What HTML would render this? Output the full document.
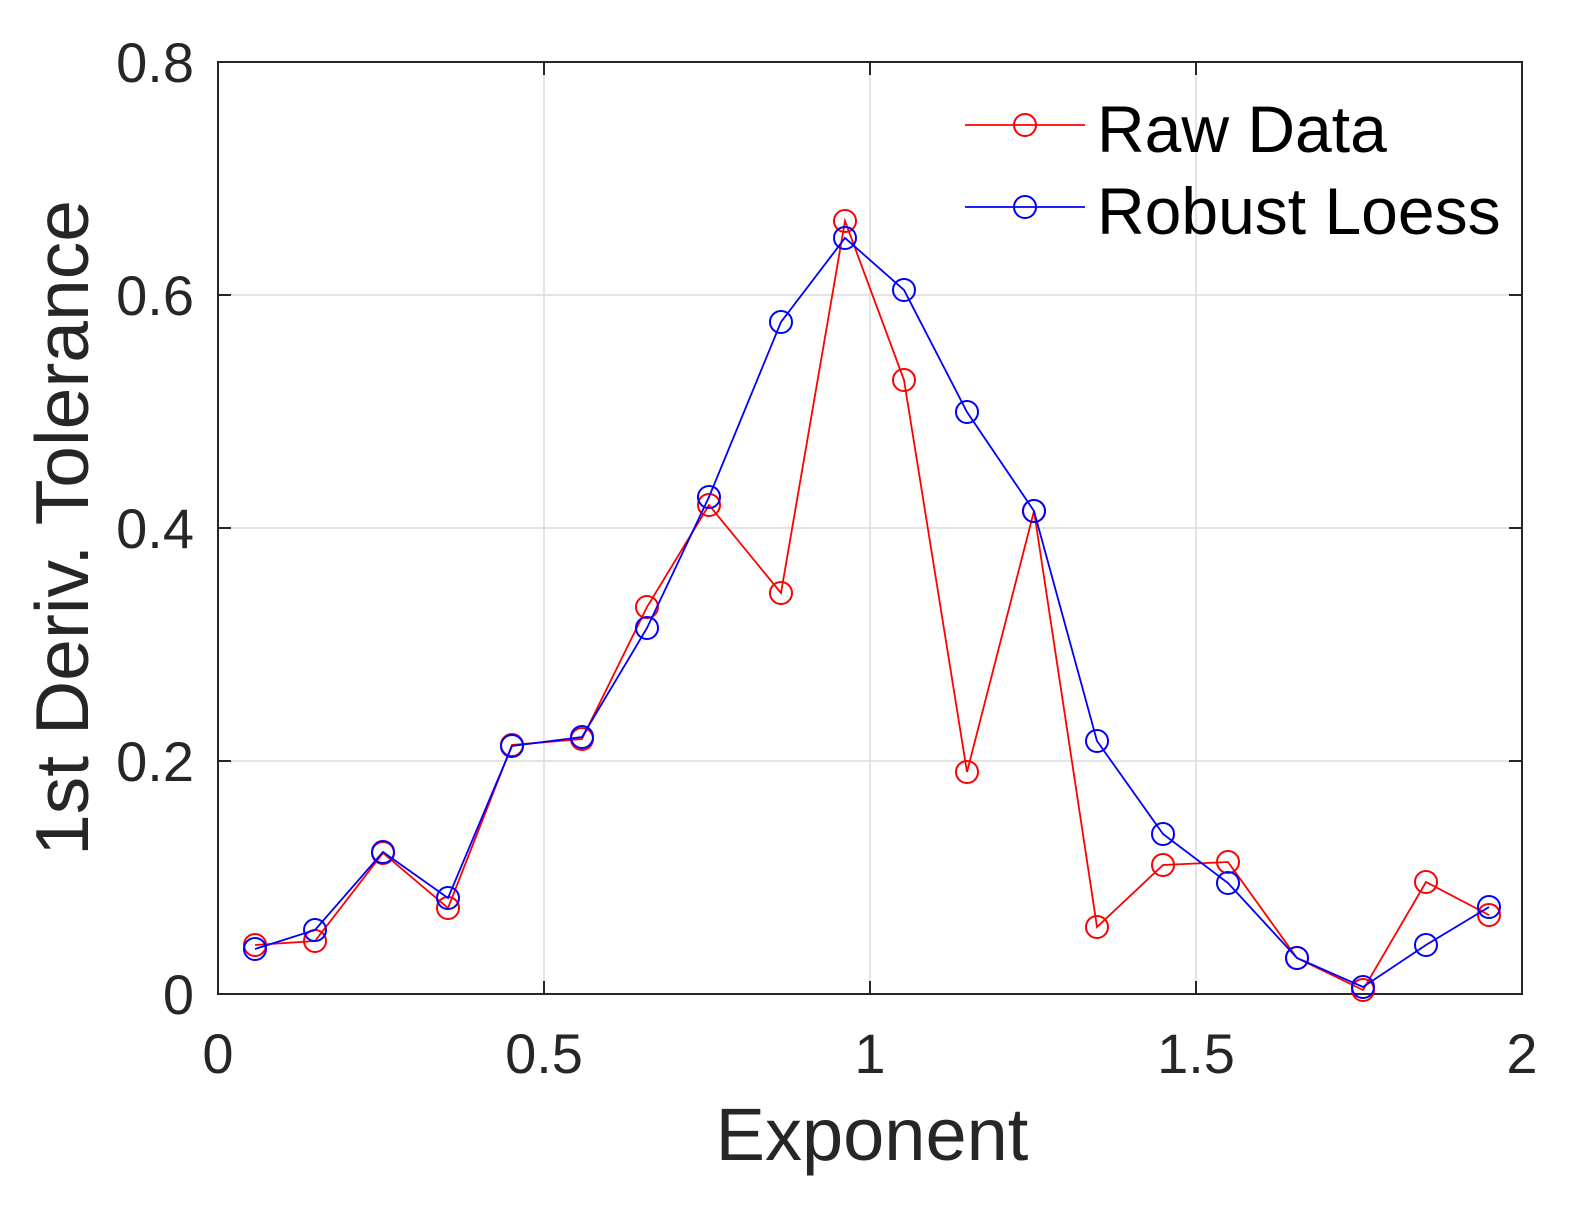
<!DOCTYPE html>
<html><head><meta charset="utf-8"><style>body{margin:0;background:#fff}svg{display:block}</style></head><body>
<svg width="1586" height="1209" xmlns="http://www.w3.org/2000/svg" font-family="Liberation Sans, Arial, sans-serif">
<rect width="1586" height="1209" fill="#fff"/>
<g stroke="#dcdcdc" stroke-width="1.5">
<line x1="544" y1="62" x2="544" y2="994"/><line x1="870" y1="62" x2="870" y2="994"/><line x1="1196" y1="62" x2="1196" y2="994"/>
<line x1="218" y1="761" x2="1522" y2="761"/><line x1="218" y1="528" x2="1522" y2="528"/><line x1="218" y1="295" x2="1522" y2="295"/>
</g>
<rect x="218" y="62" width="1304" height="932" fill="none" stroke="#262626" stroke-width="2"/>
<g stroke="#262626" stroke-width="2">
<line x1="544" y1="994" x2="544" y2="981"/><line x1="870" y1="994" x2="870" y2="981"/><line x1="1196" y1="994" x2="1196" y2="981"/>
<line x1="544" y1="62" x2="544" y2="75"/><line x1="870" y1="62" x2="870" y2="75"/><line x1="1196" y1="62" x2="1196" y2="75"/>
<line x1="218" y1="761" x2="231" y2="761"/><line x1="218" y1="528" x2="231" y2="528"/><line x1="218" y1="295" x2="231" y2="295"/>
<line x1="1522" y1="761" x2="1509" y2="761"/><line x1="1522" y1="528" x2="1509" y2="528"/><line x1="1522" y1="295" x2="1509" y2="295"/>
</g>
<g font-size="56" fill="#262626" text-anchor="middle">
<text x="218" y="1073">0</text><text x="544" y="1073">0.5</text><text x="870" y="1073">1</text><text x="1196" y="1073">1.5</text><text x="1522" y="1073">2</text>
</g>
<g font-size="56" fill="#262626" text-anchor="end">
<text x="194" y="1014">0</text><text x="194" y="781">0.2</text><text x="194" y="548">0.4</text><text x="194" y="315">0.6</text><text x="194" y="82">0.8</text>
</g>
<text x="872" y="1160" font-size="74" fill="#262626" text-anchor="middle">Exponent</text>
<text transform="translate(88,528) rotate(-90)" font-size="75" fill="#262626" text-anchor="middle">1st Deriv. Tolerance</text>
<g fill="none" stroke="#f00" stroke-width="1.8">
<polyline points="255,945 315,941 383,853 448,908 512,745 582,739 647,607 709,505 781,593 845,221 904,380 967,772 1034,511 1097,927 1163,865 1228,862 1297,958 1363,990 1426,882 1489,915"/>
<g stroke-width="2"><circle cx="255" cy="945" r="11"/><circle cx="315" cy="941" r="11"/><circle cx="383" cy="853" r="11"/><circle cx="448" cy="908" r="11"/><circle cx="512" cy="745" r="11"/><circle cx="582" cy="739" r="11"/><circle cx="647" cy="607" r="11"/><circle cx="709" cy="505" r="11"/><circle cx="781" cy="593" r="11"/><circle cx="845" cy="221" r="11"/><circle cx="904" cy="380" r="11"/><circle cx="967" cy="772" r="11"/><circle cx="1034" cy="511" r="11"/><circle cx="1097" cy="927" r="11"/><circle cx="1163" cy="865" r="11"/><circle cx="1228" cy="862" r="11"/><circle cx="1297" cy="958" r="11"/><circle cx="1363" cy="990" r="11"/><circle cx="1426" cy="882" r="11"/><circle cx="1489" cy="915" r="11"/></g>
</g>
<g fill="none" stroke="#00f" stroke-width="1.8">
<polyline points="255,949 315,930 383,852 448,898 512,746 582,737 647,628 709,497 781,322 845,238 904,290 967,412 1034,511 1097,741 1163,834 1228,883 1297,958 1363,987 1426,945 1489,907"/>
<g stroke-width="2"><circle cx="255" cy="949" r="11"/><circle cx="315" cy="930" r="11"/><circle cx="383" cy="852" r="11"/><circle cx="448" cy="898" r="11"/><circle cx="512" cy="746" r="11"/><circle cx="582" cy="737" r="11"/><circle cx="647" cy="628" r="11"/><circle cx="709" cy="497" r="11"/><circle cx="781" cy="322" r="11"/><circle cx="845" cy="238" r="11"/><circle cx="904" cy="290" r="11"/><circle cx="967" cy="412" r="11"/><circle cx="1034" cy="511" r="11"/><circle cx="1097" cy="741" r="11"/><circle cx="1163" cy="834" r="11"/><circle cx="1228" cy="883" r="11"/><circle cx="1297" cy="958" r="11"/><circle cx="1363" cy="987" r="11"/><circle cx="1426" cy="945" r="11"/><circle cx="1489" cy="907" r="11"/></g>
</g>
<line x1="965" y1="125" x2="1085" y2="125" stroke="#f00" stroke-width="1.8"/>
<circle cx="1025" cy="125" r="11" fill="none" stroke="#f00" stroke-width="2"/>
<line x1="965" y1="207" x2="1085" y2="207" stroke="#00f" stroke-width="1.8"/>
<circle cx="1025" cy="207" r="11" fill="none" stroke="#00f" stroke-width="2"/>
<text x="1097" y="152" font-size="66" fill="#000">Raw Data</text>
<text x="1097" y="234" font-size="66" fill="#000">Robust Loess</text>
</svg>
</body></html>
